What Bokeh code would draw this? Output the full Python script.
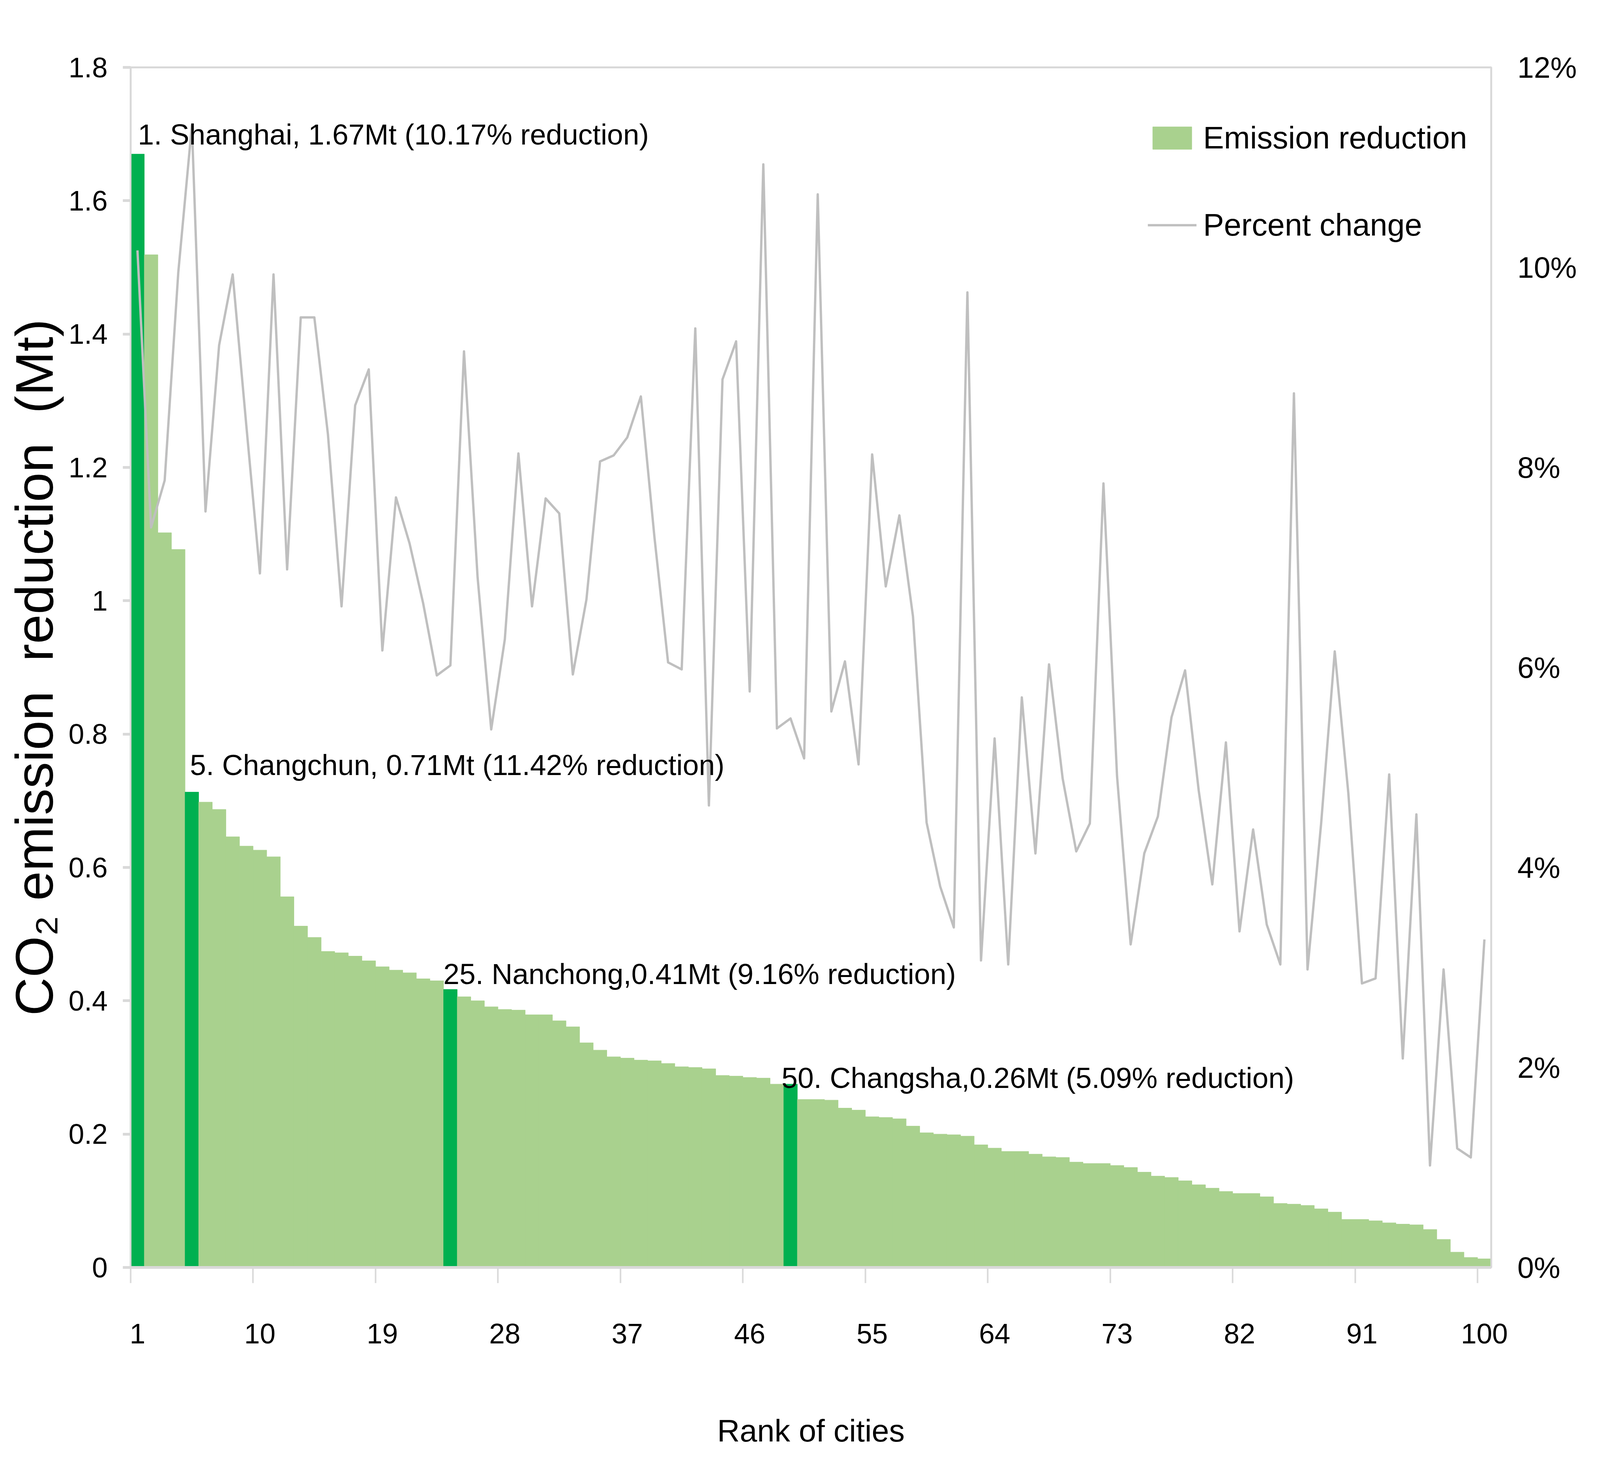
from bokeh.plotting import figure
from bokeh.models import (Range1d, LinearAxis, FixedTicker, Legend, LegendItem,
                          ColumnDataSource)
from bokeh.core.properties import value
from bokeh.embed import file_html
from bokeh.resources import INLINE

# ---------------- data ----------------
ranks = list(range(1, 101))

reduction_mt = [
    1.670, 1.519, 1.102, 1.077, 0.713, 0.698, 0.687, 0.646, 0.632, 0.626,
    0.616, 0.556, 0.512, 0.495, 0.474, 0.472, 0.467, 0.460, 0.451, 0.446,
    0.442, 0.433, 0.430, 0.417, 0.406, 0.400, 0.391, 0.387, 0.386, 0.379,
    0.379, 0.370, 0.361, 0.337, 0.326, 0.316, 0.314, 0.311, 0.310, 0.306,
    0.301, 0.300, 0.298, 0.288, 0.287, 0.285, 0.284, 0.275, 0.275, 0.252,
    0.252, 0.251, 0.239, 0.236, 0.226, 0.225, 0.223, 0.212, 0.202, 0.200,
    0.199, 0.197, 0.184, 0.179, 0.174, 0.174, 0.170, 0.166, 0.165, 0.158,
    0.156, 0.156, 0.153, 0.150, 0.143, 0.137, 0.135, 0.130, 0.124, 0.119,
    0.114, 0.111, 0.111, 0.106, 0.096, 0.095, 0.093, 0.088, 0.083, 0.072,
    0.072, 0.070, 0.067, 0.065, 0.064, 0.057, 0.042, 0.023, 0.015, 0.013,
]

percent_change = [
    10.17, 7.40, 7.87, 9.95, 11.42, 7.56, 9.22, 9.93, 8.42, 6.94,
    9.93, 6.98, 9.50, 9.50, 8.33, 6.61, 8.62, 8.98, 6.17, 7.70,
    7.24, 6.64, 5.92, 6.02, 9.16, 6.90, 5.38, 6.28, 8.14, 6.61,
    7.69, 7.54, 5.93, 6.68, 8.06, 8.12, 8.30, 8.71, 7.30, 6.05,
    5.98, 9.39, 4.62, 8.88, 9.26, 5.76, 11.03, 5.39, 5.49, 5.09,
    10.73, 5.56, 6.06, 5.03, 8.13, 6.81, 7.52, 6.51, 4.45, 3.81,
    3.40, 9.75, 3.07, 5.29, 3.03, 5.70, 4.14, 6.03, 4.89, 4.16,
    4.44, 7.84, 4.91, 3.23, 4.14, 4.51, 5.50, 5.97, 4.77, 3.83,
    5.25, 3.36, 4.38, 3.43, 3.03, 8.74, 2.98, 4.44, 6.16, 4.74,
    2.84, 2.89, 4.93, 2.09, 4.53, 1.02, 2.98, 1.19, 1.10, 3.28,
]

highlight_ranks = [1, 5, 24, 49]
annotation_texts = [
    "1. Shanghai, 1.67Mt (10.17% reduction)",
    "5. Changchun, 0.71Mt (11.42% reduction)",
    "25. Nanchong,0.41Mt (9.16% reduction)",
    "50. Changsha,0.26Mt (5.09% reduction)",
]

x_tick_values = [1, 10, 19, 28, 37, 46, 55, 64, 73, 82, 91, 100]
left_tick_values = [0, 0.2, 0.4, 0.6, 0.8, 1, 1.2, 1.4, 1.6, 1.8]
left_tick_labels = ["0", "0.2", "0.4", "0.6", "0.8", "1", "1.2", "1.4", "1.6", "1.8"]
right_tick_values = [0, 2, 4, 6, 8, 10, 12]
right_tick_labels = ["0%", "2%", "4%", "6%", "8%", "10%", "12%"]

# ---------------- styling / layout ----------------
LIGHT = "#a9d18e"
DARK = "#00b050"
LINE = "#bfbfbf"
AXIS = "#d9d9d9"
FONT = "Liberation Sans"

# annotation offsets from the top centre of their bar, in screen pixels
label_dx_px = [1, -5, -18, -23]
label_dy_px = [-50, -69, -39, -16]

bar_colors = [DARK if r in highlight_ranks else LIGHT for r in ranks]
bar_src = ColumnDataSource(dict(rank=ranks, reduction=reduction_mt, color=bar_colors))

ann_src = ColumnDataSource(dict(
    x=highlight_ranks,
    y=[reduction_mt[r - 1] for r in highlight_ranks],
    text=annotation_texts,
    dx=label_dx_px,
    dy=label_dy_px,
))

p = figure(frame_width=3483, frame_height=3072,
           x_range=Range1d(0.5, 100.5), y_range=Range1d(0, 1.8),
           output_backend="svg", toolbar_location=None,
           min_border_left=334, min_border_right=263,
           min_border_top=172, min_border_bottom=503)
p.extra_y_ranges = {"pct": Range1d(0, 12)}
p.grid.visible = False
p.background_fill_color = "white"
p.border_fill_color = "white"
p.outline_line_color = AXIS
p.outline_line_width = 5

r_bar = p.vbar(x="rank", top="reduction", width=1.0, source=bar_src,
               fill_color="color", line_color="color", line_width=1)
r_line = p.line(ranks, percent_change, y_range_name="pct",
                line_color=LINE, line_width=6, line_join="round")

p.text(x="x", y="y", text="text", x_offset="dx", y_offset="dy", source=ann_src,
       text_font=value(FONT), text_font_size=value("74px"),
       text_baseline="alphabetic", text_align="left", text_color="black")

# x axis
xa = p.xaxis[0]
xa.ticker = FixedTicker(ticks=x_tick_values, minor_ticks=[t - 0.5 for t in x_tick_values])
xa.major_tick_line_color = None
xa.major_tick_out = 40
xa.major_tick_in = 0
xa.minor_tick_out = 40
xa.minor_tick_in = 0
xa.minor_tick_line_color = AXIS
xa.minor_tick_line_width = 4
xa.axis_line_color = AXIS
xa.axis_line_width = 7
xa.major_label_text_font = FONT
xa.major_label_text_font_size = "72px"
xa.major_label_text_color = "black"
xa.major_label_standoff = 104
xa.axis_label = "Rank of cities"
xa.axis_label_text_font = FONT
xa.axis_label_text_font_size = "80px"
xa.axis_label_text_font_style = "normal"
xa.axis_label_text_color = "black"
xa.axis_label_standoff = 176

# left y axis
ya = p.yaxis[0]
ya.ticker = FixedTicker(ticks=left_tick_values)
ya.major_label_overrides = dict(zip(left_tick_values, left_tick_labels))
ya.major_tick_out = 20
ya.major_tick_in = 0
ya.major_tick_line_color = AXIS
ya.major_tick_line_width = 7
ya.minor_tick_line_color = None
ya.axis_line_color = AXIS
ya.axis_line_width = 4
ya.major_label_text_font = FONT
ya.major_label_text_font_size = "72px"
ya.major_label_text_color = "black"
ya.major_label_standoff = 39
ya.axis_label = "CO\u2082 emission \u00a0reduction \u00a0(Mt)"
ya.axis_label_text_font = FONT
ya.axis_label_text_font_size = "136px"
ya.axis_label_text_font_style = "normal"
ya.axis_label_text_color = "black"
ya.axis_label_standoff = 8

# right y axis
ra = LinearAxis(y_range_name="pct", ticker=FixedTicker(ticks=right_tick_values))
ra.major_label_overrides = dict(zip(right_tick_values, right_tick_labels))
ra.major_tick_out = 0
ra.major_tick_in = 0
ra.major_tick_line_color = None
ra.minor_tick_line_color = None
ra.axis_line_color = AXIS
ra.axis_line_width = 4
ra.major_label_text_font = FONT
ra.major_label_text_font_size = "76px"
ra.major_label_text_color = "black"
ra.major_label_standoff = 67
p.add_layout(ra, "right")

# legend: location is its bottom-left corner inside the frame
legend = Legend(
    items=[LegendItem(label="Emission reduction", renderers=[r_bar], index=1),
           LegendItem(label="Percent change", renderers=[r_line])],
    location=(2604, 2622), orientation="vertical",
    glyph_width=125, glyph_height=72, label_standoff=17, spacing=131,
    padding=0, margin=0, border_line_color=None, background_fill_alpha=0,
    label_text_font=FONT, label_text_font_size="80px", label_text_color="black",
)
p.add_layout(legend)

open("out.html", "w").write(file_html(p, INLINE))
